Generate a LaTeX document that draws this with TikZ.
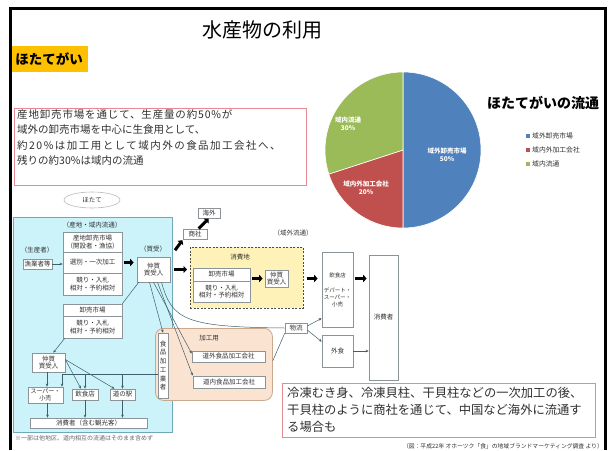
\documentclass[tikz,border=0pt]{standalone}
\usepackage{fontspec}
\setmainfont{Noto Sans CJK JP}
\usetikzlibrary{arrows.meta,shapes.geometric,calc}
\definecolor{pieblue}{HTML}{4F81BD}
\definecolor{piered}{HTML}{C0504D}
\definecolor{piegreen}{HTML}{9BBB59}
\definecolor{orangebg}{HTML}{FFC000}
\definecolor{redline}{HTML}{E58A94}
\definecolor{cyanbg}{HTML}{CCF2FA}
\definecolor{cyanline}{HTML}{6FA8B8}
\definecolor{yellowbg}{HTML}{FFF2B8}
\definecolor{peachbg}{HTML}{FBE3D2}
\definecolor{peachline}{HTML}{C9A88E}
\definecolor{boxline}{HTML}{8C9498}
\definecolor{flowc}{HTML}{3F5F6C}
\definecolor{txt}{HTML}{303030}
\begin{document}
\begin{tikzpicture}[x=1pt,y=-1pt,
  fbox/.style={draw=boxline, fill=white, line width=0.6pt, inner sep=0.5pt, align=center,
    font=\fontsize{6.5}{7.5}\selectfont, text=txt},
  lbl/.style={inner sep=0, font=\fontsize{6.5}{7.5}\selectfont, text=txt},
  pielab/.style={inner sep=0, align=center, text=white, font=\bfseries\fontsize{6.5}{7.5}\selectfont},
  legtext/.style={inner sep=0, anchor=west, text=txt, font=\fontsize{6.8}{8}\selectfont},
  redbox/.style={draw=redline, line width=0.7pt, inner sep=0},
  flow/.style={draw=flowc, line width=0.5pt, -{Stealth[length=3pt,width=2.6pt]}},
  fline/.style={draw=flowc, line width=0.5pt},
  thickarr/.style={draw=black, line width=3pt, -{Triangle[length=3.5pt,width=7pt]}}]
\useasboundingbox (0,0) rectangle (610,450);
\fill[white] (0,0) rectangle (610,450);

% title and header
\node[font=\fontsize{20}{24}\selectfont, inner sep=0] (title) at (262,30) {水産物の利用};
\node[fill=orangebg, font=\bfseries\fontsize{13.5}{16}\selectfont, minimum width=78, minimum height=26,
  anchor=north west, inner sep=0] (hotate) at (10,46) {ほたてがい};

% description box
\node[redbox, minimum width=292, minimum height=77, anchor=north west] (desc) at (14,108) {};
\node[anchor=north west, align=left, inner sep=0, text=txt, font=\fontsize{10.5}{15.5}\selectfont] (desctext) at (17,109)
 {{\addfontfeature{LetterSpace=8}産地卸売市場を通じて、生産量の約50\%が}\\
  域外の卸売市場を中心に生食用として、\\
  {\addfontfeature{LetterSpace=14}約20\%は加工用として域内外の食品加工会社へ、}\\
  残りの約30\%は域内の流通};

% pie chart
\coordinate (pc) at (403,150);
\fill[pieblue, draw=white, line width=0.6pt] (pc) -- ++(-90:78) arc[start angle=-90, end angle=90, radius=78] -- cycle;
\fill[piered, draw=white, line width=0.6pt] (pc) -- ++(90:78) arc[start angle=90, end angle=162, radius=78] -- cycle;
\fill[piegreen, draw=white, line width=0.6pt] (pc) -- ++(162:78) arc[start angle=162, end angle=270, radius=78] -- cycle;
\node[pielab] (lb1) at (447,155) {域外卸売市場\\50\%};
\node[pielab] (lb2) at (366,188) {域内外加工会社\\20\%};
\node[pielab] (lb3) at (348,124) {域内流通\\30\%};
\node[font=\bfseries\fontsize{14}{16}\selectfont, anchor=west, inner sep=0] (pietitle) at (487,103) {ほたてがいの流通};
\node[fill=pieblue, minimum size=4, inner sep=0] (lg1) at (528,136) {};
\node[fill=piered, minimum size=4, inner sep=0] (lg2) at (528,150) {};
\node[fill=piegreen, minimum size=4, inner sep=0] (lg3) at (528,164) {};
\node[legtext] (lt1) at (532,136) {域外卸売市場};
\node[legtext] (lt2) at (532,150) {域内外加工会社};
\node[legtext] (lt3) at (532,164) {域内流通};

% flow diagram regions
\node[ellipse, draw=gray!55, line width=0.6pt, minimum width=56, minimum height=16, inner sep=0,
  font=\fontsize{6.5}{7.5}\selectfont, text=txt] (hotateov) at (92,200) {ほたて};
\node[draw=cyanline, fill=cyanbg, line width=0.8pt, minimum width=159, minimum height=215, anchor=north west, inner sep=0] (bluereg) at (13,217) {};
\node[draw=black!70, dash pattern=on 2pt off 1.5pt, line width=0.7pt, fill=yellowbg, minimum width=113, minimum height=61,
  anchor=north west, inner sep=0] (yreg) at (190,247) {};
\node[draw=peachline, fill=peachbg, line width=0.8pt, rounded corners=8pt, minimum width=117, minimum height=72,
  anchor=north west, inner sep=0] (kreg) at (155,328) {};

% labels
\node[lbl] (l1) at (92,225) {（産地・域内流通）};
\node[lbl] (l2) at (37,250) {（生産者）};
\node[lbl] (l3) at (153,249) {（買受）};
\node[lbl] (l4) at (293,233) {（域外流通）};
\node[lbl] (l5) at (240,257) {消費地};
\node[lbl] (l6) at (209,338) {加工用};

% boxes in blue region
\node[fbox, minimum width=59, minimum height=20] (s1) at (92.5,242) {産地卸売市場\\（開設者・漁協）};
\node[fbox, minimum width=59, minimum height=21] (s2) at (92.5,262.5) {選別・一次加工};
\node[fbox, minimum width=59, minimum height=22] (s3) at (92.5,284) {競り・入札\\相対・予約相対};
\node[fbox, minimum width=29, minimum height=10] (gyo) at (37.5,264) {漁業者等};
\node[fbox, minimum width=33, minimum height=25] (nak1) at (153.5,269.5) {仲買\\買受人};
\node[fbox, minimum width=59, minimum height=12] (oroA) at (92.5,310) {卸売市場};
\node[fbox, minimum width=59, minimum height=22] (oroB) at (92.5,327) {競り・入札\\相対・予約相対};
\node[fbox, minimum width=33, minimum height=19] (nak2) at (48.5,362.5) {仲買\\買受人};
\node[fbox, minimum width=35, minimum height=16, font=\fontsize{6}{7}\selectfont] (super) at (45.5,395) {スーパー・\\小売};
\node[fbox, minimum width=26, minimum height=11] (insh2) at (85,394.5) {飲食店};
\node[fbox, minimum width=25, minimum height=11] (michi) at (122.5,394.5) {道の駅};
\node[fbox, minimum width=117, minimum height=10] (shoh2) at (88.5,423) {消費者（含む観光客）};

% boxes outside
\node[fbox, minimum width=24, minimum height=10] (shosha) at (195,234.5) {商社};
\node[fbox, minimum width=22, minimum height=10] (kaigai) at (209,213) {海外};
\node[fbox, minimum width=57, minimum height=13] (y1) at (221.5,274.5) {卸売市場};
\node[fbox, minimum width=57, minimum height=21] (y2) at (221.5,291.5) {競り・入札\\相対・予約相対};
\node[fbox, minimum width=23, minimum height=17] (nak3) at (276.5,278.5) {仲買\\買受人};
\node[fbox, minimum width=31, minimum height=75, font=\fontsize{5.5}{7}\selectfont] (inshoku) at (337.5,289.5) {飲食店\\[8pt]デパート・\\スーパー・\\小売};
\node[fbox, minimum width=31, minimum height=32] (gaishoku) at (337.5,351) {外食};
\node[fbox, minimum width=29, minimum height=125] (shohisha) at (383.5,317.5) {消費者};
\node[fbox, minimum width=22, minimum height=10] (butsuryu) at (296,328) {物流};
\node[fbox, minimum width=10, minimum height=65, font=\fontsize{6.5}{8.7}\selectfont] (vert) at (163,365.5) {食\\品\\加\\工\\業\\者};
\node[fbox, minimum width=73, minimum height=11] (dogai) at (228.5,356.5) {道外食品加工会社};
\node[fbox, minimum width=72, minimum height=12] (donai) at (229,382) {道内食品加工会社};

% thick arrows
\draw[thickarr] ([xshift=1.5pt]s2.east) -- ([xshift=-3pt]s2.east -| nak1.west);
\draw[thickarr, shorten <=8pt, shorten >=0.5pt] (nak1.north east) -- (shosha.south west);
\draw[thickarr, shorten <=1pt, shorten >=0.5pt] ([xshift=3pt]shosha.north) -- (kaigai.south);
\draw[thickarr] ([xshift=4pt]nak1.east) -- ([xshift=-3pt]nak1.east -| yreg.west);
\draw[thickarr] ([xshift=2pt]nak3.west -| y1.east) -- ([xshift=-2pt]nak3.west);
\draw[thickarr] ([xshift=3pt]nak3.east -| yreg.east) -- ([xshift=-4pt]nak3.east -| inshoku.west);
\draw[thickarr] ([xshift=2pt]nak3.east -| inshoku.east) -- ([xshift=-2pt]nak3.east -| shohisha.west);

% thin connectors
\draw[flow] (gyo.east) -- (gyo.east -| s2.west);
\draw[flow] (gaishoku.east) -- (gaishoku.east -| shohisha.west);
\draw[flow] ([xshift=-4pt]nak1.south) -- (vert.north);
\draw[flow] (nak1.south) -- ([yshift=3pt]dogai.west);
\draw[flow] ([xshift=4pt]nak1.south) -- (donai.north west);
\draw[fline] ([xshift=8pt]nak1.south) .. controls (172,320) and (185,327) .. (butsuryu.west);
\draw[fline] ([xshift=2pt]nak1.south west) -- (oroA.north east);
\draw[flow] ([xshift=2pt]oroB.south west) -- ([xshift=-12pt]nak2.north east);
\coordinate (hl) at (62,374);
\draw[fline] (vert.west |- hl) -- (hl);
\draw[flow] (hl) -- (hl |- super.north);
\draw[flow] (hl -| insh2.north) -- (insh2.north);
\draw[flow] (hl -| michi.north) -- (michi.north);
\draw[flow] ([xshift=-1.5pt]nak2.south) -- ([xshift=-1.5pt]nak2.south |- super.north);
\draw[flow] ([yshift=3pt]nak2.east) -- ([xshift=-4pt]insh2.north);
\draw[flow] ([yshift=3pt]nak2.east) -- ([xshift=-8pt]michi.north);
\draw[flow] ([xshift=2pt]super.south) -- ([xshift=2pt]super.south |- shoh2.north);
\draw[flow] (insh2.south) -- (insh2.south |- shoh2.north);
\draw[flow] (michi.south) -- (michi.south |- shoh2.north);
\draw[fline] ($(kreg.north east)!0.45!(kreg.south east)$) -- (butsuryu.south west);
\draw[flow] ([yshift=2pt]butsuryu.east) -- ([yshift=9pt]inshoku.south west);
\draw[flow] ([yshift=-2pt]butsuryu.east) -- ([yshift=-7pt]gaishoku.north west);

% footnote
\node[anchor=west, inner sep=0, text=black!60, font=\fontsize{6}{7}\selectfont] (foot) at (15,438) {※一部は他地区、道内相互の流通はそのまま含めず};

% bottom note
\node[redbox, minimum width=313, minimum height=54, anchor=north west] (note) at (282,383) {};
\node[anchor=north west, align=left, inner sep=0, text=txt, font=\fontsize{12.3}{17}\selectfont] (notetext) at (287,387)
 {冷凍むき身、冷凍貝柱、干貝柱などの一次加工の後、\\
  干貝柱のように商社を通じて、中国など海外に流通す\\
  る場合も};
\node[anchor=east, inner sep=0, text=txt, font=\fontsize{5.8}{7}\selectfont] (source) at (603,446)
 {（図：平成22年\ オホーツク「食」の地域ブランドマーケティング調査\ より）};

% frame
\draw[line width=3pt] (10,450) -- (10,8) -- (605,8) -- (605,450);
\end{tikzpicture}
\end{document}
